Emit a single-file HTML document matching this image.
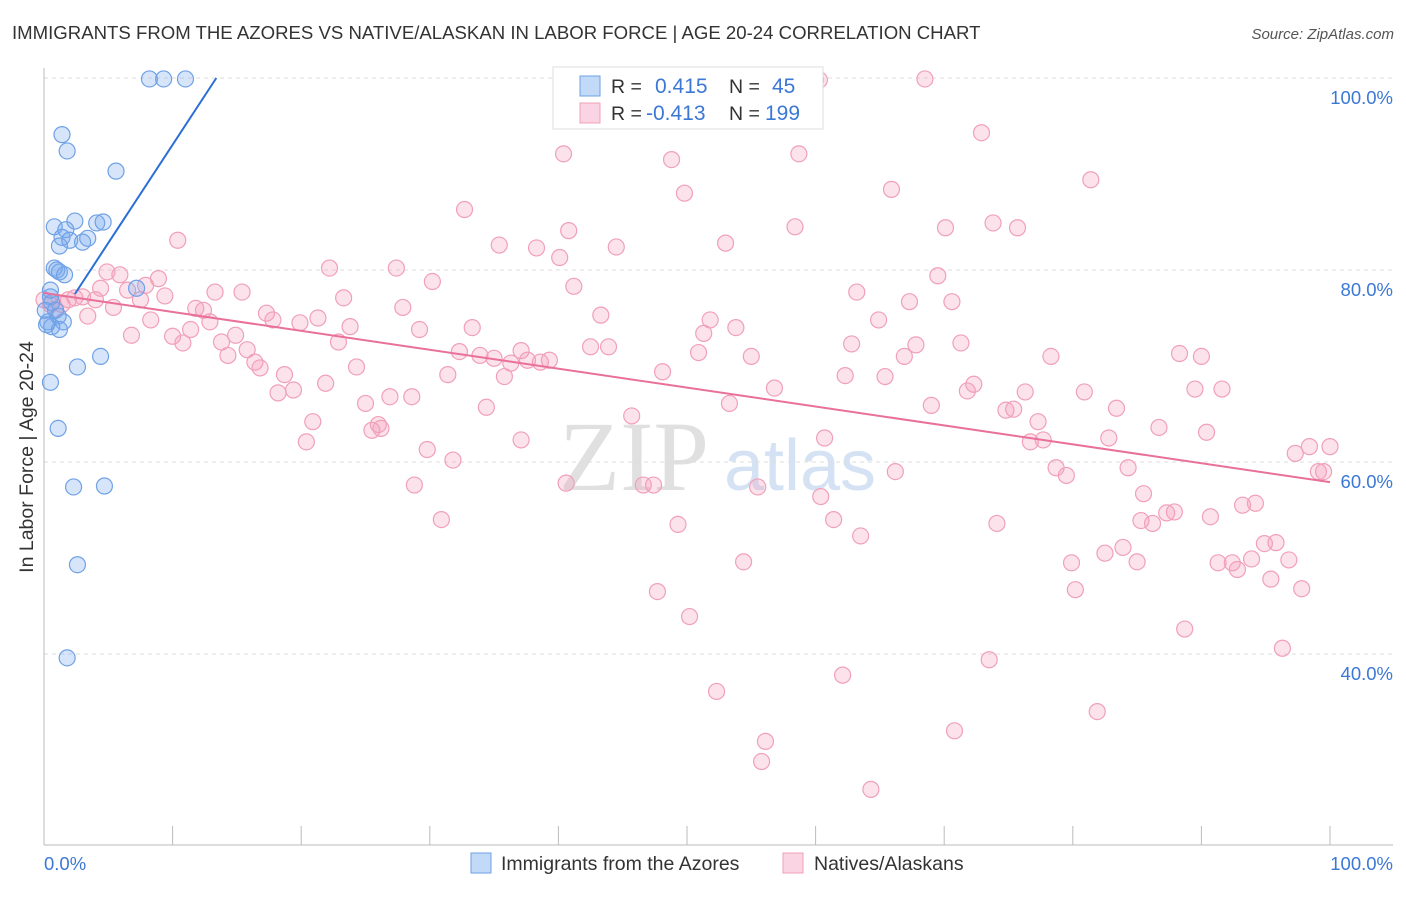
<!DOCTYPE html>
<html><head><meta charset="utf-8"><style>
body{margin:0;background:#fff;width:1406px;height:892px;overflow:hidden;font-family:"Liberation Sans",sans-serif}
svg text{font-family:"Liberation Sans",sans-serif}
</style></head><body>
<svg id="chart" width="1406" height="892" viewBox="0 0 1406 892" xmlns="http://www.w3.org/2000/svg">
<text x="12" y="39" font-size="18.6" fill="#333">IMMIGRANTS FROM THE AZORES VS NATIVE/ALASKAN IN LABOR FORCE | AGE 20-24 CORRELATION CHART</text>
<text x="1394" y="39" font-size="15" fill="#555" font-style="italic" text-anchor="end">Source: ZipAtlas.com</text>
<g opacity="0.6">
<text x="634" y="490" font-size="100" fill="#ccc" text-anchor="middle" style="font-family:'Liberation Serif',serif">ZIP</text>
<text x="800" y="490" font-size="72" fill="#b8d0ee" text-anchor="middle">atlas</text>
</g>
<g id="grid"></g>
<g id="axes"></g>
<g id="pts-pink"></g>
<g id="pts-blue"></g>
<g id="trends"></g>
<text transform="translate(33,457) rotate(-90)" font-size="19.5" fill="#333" text-anchor="middle">In Labor Force | Age 20-24</text>
<g>
<rect x="553" y="67" width="270" height="62" fill="#fff" stroke="#ddd"/>
<g>
<rect x="580" y="76" width="20" height="20" fill="rgba(120,170,240,0.45)" stroke="#6fa1e6"/>
<text x="611" y="93" font-size="19.5" fill="#333">R =</text>
<text x="655" y="93" font-size="21" fill="#3b78d6">0.415</text>
<text x="729" y="93" font-size="19.5" fill="#333">N =</text>
<text x="772" y="93" font-size="21" fill="#3b78d6">45</text>
</g>
<g>
<rect x="580" y="103" width="20" height="20" fill="rgba(245,160,190,0.45)" stroke="#f0a0b8"/>
<text x="611" y="120" font-size="19.5" fill="#333">R =</text>
<text x="646" y="120" font-size="21" fill="#3b78d6">-0.413</text>
<text x="729" y="120" font-size="19.5" fill="#333">N =</text>
<text x="765" y="120" font-size="21" fill="#3b78d6">199</text>
</g>
</g>
<g>
<rect x="471" y="853" width="20" height="20" fill="rgba(120,170,240,0.45)" stroke="#6fa1e6"/>
<text x="501" y="870" font-size="19.5" fill="#333">Immigrants from the Azores</text>
<rect x="783" y="853" width="20" height="20" fill="rgba(245,160,190,0.45)" stroke="#f0a0b8"/>
<text x="814" y="870" font-size="19.5" fill="#333">Natives/Alaskans</text>
</g>
</svg>
<script>
const yTicks=[40,60,80,100];
const yTickLabels=["40.0%","60.0%","80.0%","100.0%"];
const xTickLabels=["0.0%","100.0%"];
const blueX=[8.2,9.3,11.0,1.4,1.8,5.6,0.8,2.4,4.1,4.6,1.7,1.4,2.0,3.0,1.2,3.4,0.8,1.0,1.2,1.6,0.5,0.6,0.9,1.1,1.5,0.3,0.6,1.2,0.2,4.4,2.6,0.5,1.1,2.3,4.7,2.6,1.8,7.2,0.1,0.5];
const blueY=[99.9,99.9,99.9,94.1,92.4,90.3,84.5,85.1,84.9,85.0,84.2,83.4,83.1,82.9,82.5,83.3,80.2,80.0,79.8,79.5,77.2,76.6,75.8,75.2,74.6,74.6,74.1,73.8,74.3,71.0,69.9,68.3,63.5,57.4,57.5,49.3,39.6,78.1,75.8,77.9];
const pinkX=[0.0,0.5,0.9,1.4,1.9,2.4,3.0,3.4,4.0,4.4,4.9,5.4,5.9,6.5,6.8,7.5,7.9,8.3,8.9,9.4,10.0,10.4,10.8,11.4,11.8,12.4,12.9,13.3,13.8,14.3,14.9,15.4,15.8,16.4,16.8,17.3,17.8,18.2,18.7,19.4,19.9,20.4,20.9,21.3,21.9,22.2,22.9,23.3,23.8,24.3,25.0,25.5,26.0,26.2,26.9,27.4,27.9,28.6,28.8,29.2,29.8,30.2,30.9,31.4,31.8,32.3,32.7,33.3,33.9,34.4,35.0,35.4,35.8,36.3,37.1,37.1,37.6,38.3,38.6,39.3,40.1,40.4,40.6,40.8,41.2,42.5,43.3,43.9,44.5,45.7,46.6,47.4,47.7,48.1,48.8,49.3,49.8,50.2,50.9,51.3,51.8,52.3,53.0,53.3,53.8,54.4,55.0,55.5,56.1,55.8,56.8,58.4,58.7,60.4,60.7,61.4,62.1,62.3,62.8,63.2,63.5,64.3,64.9,65.4,65.9,66.2,66.9,67.3,67.8,68.5,69.0,69.5,70.1,70.6,70.8,71.3,71.8,72.3,72.9,73.5,73.8,74.1,74.8,75.4,75.7,76.3,76.7,77.3,77.7,78.3,78.7,79.5,79.9,80.2,80.9,81.4,81.9,82.5,82.8,83.4,83.9,84.3,85.0,85.5,85.3,86.2,86.7,87.3,87.9,88.3,88.7,89.5,90.0,90.4,90.7,91.3,91.6,92.4,92.8,93.2,93.9,94.2,94.9,95.4,95.8,96.3,96.8,97.3,97.8,98.4,99.1,99.5,100.0,59.3,60.0,60.3,57.2,57.9];
const pinkY=[76.9,76.4,75.9,76.4,76.9,77.1,77.2,75.2,76.9,78.1,79.8,76.1,79.5,77.9,73.2,76.9,78.4,74.8,79.1,77.3,73.1,83.1,72.4,73.8,76.0,75.8,74.6,77.7,72.5,71.1,73.2,77.7,71.7,70.4,69.8,75.5,74.8,67.2,69.1,67.5,74.5,62.1,64.2,75.0,68.2,80.2,72.5,77.1,74.1,69.9,66.1,63.3,63.9,63.5,66.8,80.2,76.1,66.8,57.6,73.8,61.3,78.8,54.0,69.1,60.2,71.5,86.3,74.0,71.1,65.7,70.8,82.6,68.9,70.3,62.3,71.6,70.6,82.3,70.4,70.6,81.3,92.1,57.8,84.1,78.3,72.0,75.3,72.0,82.4,64.8,57.6,57.6,46.5,69.4,91.5,53.5,88.0,43.9,71.4,73.4,74.8,36.1,82.8,66.1,74.0,49.6,71.0,57.4,30.9,28.8,67.7,84.5,92.1,56.4,62.5,54.0,37.8,69.0,72.3,77.7,52.3,25.9,74.8,68.9,88.4,59.0,71.0,76.7,72.2,99.9,65.9,79.4,84.4,76.7,32.0,72.4,67.4,68.1,94.3,39.4,84.9,53.6,65.4,65.5,84.4,67.3,62.1,64.2,62.3,71.0,59.4,58.6,49.5,46.7,67.3,89.4,34.0,50.5,62.5,65.6,51.1,59.4,49.6,56.7,53.9,53.6,63.6,54.7,54.8,71.3,42.6,67.6,71.0,63.1,54.3,49.5,67.6,49.5,48.8,55.5,49.9,55.7,51.5,47.8,51.6,40.6,49.8,60.9,46.8,61.6,59.0,59.0,61.6,99.8,99.8,99.8,99.8,99.8];
const blueTrend=[2.4,77.5,13.4,100];
const pinkTrend=[0,77.6,100,57.9];

const NS="http://www.w3.org/2000/svg";
const X0=44,X1=1330,Ytop=78;
function sx(v){return X0+(X1-X0)*v/100;}
function sy(v){return Ytop+(100-v)*9.6;}
function mk(tag,attrs,parent){const e=document.createElementNS(NS,tag);for(const k in attrs)e.setAttribute(k,attrs[k]);parent.appendChild(e);return e;}
const grid=document.getElementById('grid'),axes=document.getElementById('axes');
yTicks.forEach((t,i)=>{
  const l=mk('line',{x1:X0,x2:1393,y1:sy(t),y2:sy(t),stroke:'#ddd','stroke-dasharray':'4,4'},grid);
  
  
  const tx=mk('text',{x:1393,y:sy(t)+26,'font-size':18.5,fill:'#3b78d6','text-anchor':'end'},axes);
  tx.textContent=yTickLabels[i];
  
  
});
const ax=mk('line',{x1:X0,x2:1393,y1:845,y2:845,stroke:'#bbb'},axes);


const ayl=mk('line',{x1:X0,x2:X0,y1:68,y2:845,stroke:'#bbb'},axes);


for(let i=0;i<=10;i++){
  const t=mk('line',{x1:sx(i*10),x2:sx(i*10),y1:826,y2:845,stroke:'#bbb'},axes);
  
  
}
const xl0=mk('text',{x:44,y:870,'font-size':18.5,fill:'#3b78d6'},axes);xl0.textContent=xTickLabels[0];


const xl1=mk('text',{x:1393,y:870,'font-size':18.5,fill:'#3b78d6','text-anchor':'end'},axes);xl1.textContent=xTickLabels[1];


const gp=document.getElementById('pts-pink'),gb=document.getElementById('pts-blue');
pinkX.forEach((v,i)=>{
  const c=mk('circle',{cx:sx(v),cy:sy(pinkY[i]),r:8,fill:'rgba(245,160,190,0.3)',stroke:'#f0a0b8','stroke-width':1.2},gp);
  
  
});
blueX.forEach((v,i)=>{
  const c=mk('circle',{cx:sx(v),cy:sy(blueY[i]),r:8,fill:'rgba(120,170,240,0.3)',stroke:'#6fa1e6','stroke-width':1.2},gb);
  
  
});
const tr=document.getElementById('trends');
const bl=mk('line',{x1:sx(blueTrend[0]),y1:sy(blueTrend[1]),x2:sx(blueTrend[2]),y2:sy(blueTrend[3]),stroke:'#2a6fd6','stroke-width':2},tr);


const pl=mk('line',{x1:sx(pinkTrend[0]),y1:sy(pinkTrend[1]),x2:sx(pinkTrend[2]),y2:sy(pinkTrend[3]),stroke:'#e8709a','stroke-width':2},tr);


</script>
</body></html>
